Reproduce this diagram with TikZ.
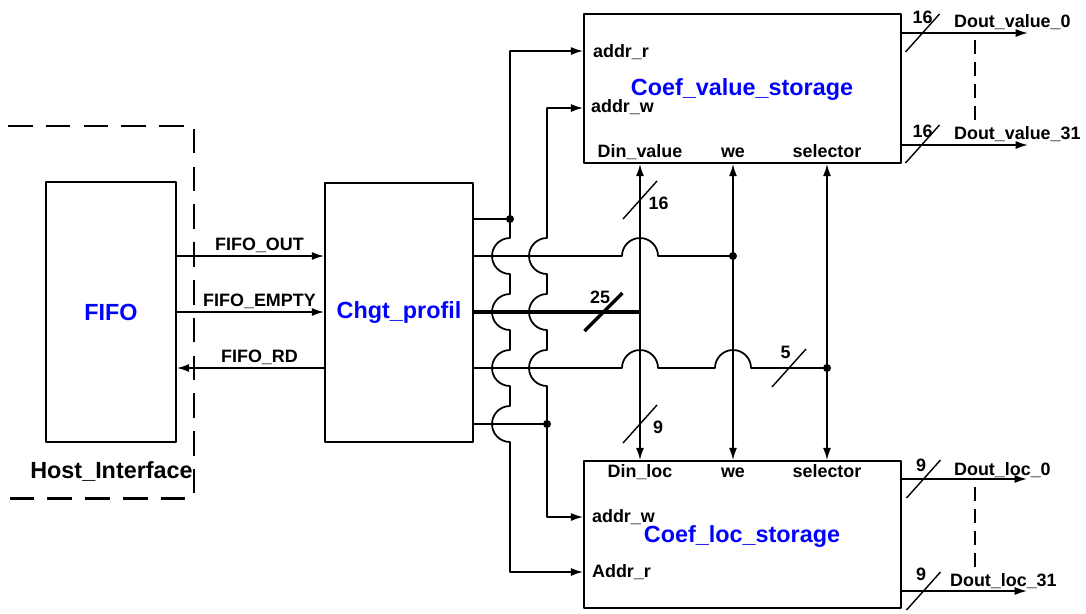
\documentclass[tikz,border=0pt]{standalone}
\usepackage{fontspec}
\setmainfont{Liberation Sans}
\usetikzlibrary{arrows.meta}

\begin{document}
\begin{tikzpicture}[x=0.02cm,y=-0.02cm,line join=round,>={Latex[length=7pt,width=4.6pt]},
  every node/.style={inner sep=1pt},
  block/.style={draw,line width=1pt,inner sep=0pt,text=blue,font=\fontsize{13.3}{15}\selectfont\bfseries},
  blocktxt/.style={text=blue,font=\fontsize{13.3}{15}\selectfont\bfseries},
  port/.style={font=\fontsize{10.2}{12}\selectfont\bfseries},
  wire/.style={line width=1pt},
  bus/.style={line width=2pt},
  busmark/.style={line width=0.8pt},
  hostbox/.style={line width=1.7pt,dash pattern=on 14pt off 7.5pt}]
  \useasboundingbox (0,0) rectangle (1086,613);

  % blocks
  \node[block,minimum width=2.6cm,minimum height=5.2cm] (fifo) at (111,312) {FIFO};
  \node[block,minimum width=2.96cm,minimum height=5.18cm] (chg) at (399,312.5) {Chgt\_profil};
  \node[block,minimum width=6.34cm,minimum height=2.98cm] (cvs) at (742.5,88.5) {};
  \node[block,minimum width=6.34cm,minimum height=2.94cm] (cls) at (742.5,534.5) {};
  \node[blocktxt,anchor=base] (cvst) at (742,95) {Coef\_value\_storage};
  \node[blocktxt,anchor=base] (clst) at (742,542) {Coef\_loc\_storage};

  % host interface
  \draw[hostbox] (8,126) -| (194,498) -- (8,498);
  \node[blocktxt,text=black,anchor=base] (host) at (111.5,478) {Host\_Interface};

  % fifo <-> chgt_profil
  \draw[wire,->] (fifo.east |- 0,256) -- (chg.west |- 0,256);
  \draw[wire,->] (fifo.east |- 0,312) -- (chg.west |- 0,312);
  \draw[wire,<-] (fifo.east |- 0,368) -- (chg.west |- 0,368);
  \node[port,anchor=base] (fout) at (259.5,250) {FIFO\_OUT};
  \node[port,anchor=base] (fempty) at (259.5,306) {FIFO\_EMPTY};
  \node[port,anchor=base] (frd) at (259.5,362) {FIFO\_RD};

  % ports
  \node[port,anchor=base west] (cvar) at (591,57) {addr\_r};
  \node[port,anchor=base west] (cvaw) at (589,112) {addr\_w};
  \node[port,anchor=base] (cvdin) at (640,157) {Din\_value};
  \node[port,anchor=base] (cvwe) at (733,157) {we};
  \node[port,anchor=base] (cvsel) at (827,157) {selector};
  \node[port,anchor=base] (cldin) at (640,477) {Din\_loc};
  \node[port,anchor=base] (clwe) at (733,477) {we};
  \node[port,anchor=base] (clsel) at (827,477) {selector};
  \node[port,anchor=base west] (claw) at (590,522) {addr\_w};
  \node[port,anchor=base west] (clar) at (590,577) {Addr\_r};

  \coordinate (ja) at (510,219);
  \coordinate (jb) at (547,424);
  \coordinate (jc) at (733,256);
  \coordinate (jd) at (827,368);

  % shared buses between the storages
  \draw[wire,<->] (cvs.south -| cvdin) -- (cls.north -| cldin);
  \draw[wire,<->] (cvs.south -| cvwe) -- (cls.north -| clwe);
  \draw[wire,<->] (cvs.south -| cvsel) -- (cls.north -| clsel);

  % addresses
  \draw[wire,<->] (cvs.west |- 0,51) -| (ja)
    foreach \yy in {256,312,368,424}{ -- (510,\yy-18) arc[start angle=270,end angle=90,radius=18] }
    |- (cls.west |- 0,572);
  \draw[wire,<->] (cvs.west |- 0,108) -| (547,200)
    foreach \yy in {256,312,368}{ -- (547,\yy-18) arc[start angle=270,end angle=90,radius=18] }
    |- (cls.west |- 0,517);
  \draw[wire] (chg.east |- ja) -- (ja);
  \draw[wire] (chg.east |- jb) -- (jb);

  % we, data, selector
  \draw[wire] (chg.east |- jc)
    foreach \xx in {640}{ -- (\xx-18,256) arc[start angle=180,end angle=360,radius=18] } -- (jc);
  \draw[bus] (chg.east |- 0,312) -- (cvdin |- 0,312);
  \draw[wire] (chg.east |- jd)
    foreach \xx in {640,733}{ -- (\xx-18,368) arc[start angle=180,end angle=360,radius=18] } -- (jd);
  \foreach \j in {ja,jb,jc,jd} \fill (\j) circle[radius=4];

  % outputs
  \draw[wire,->] (cvs.east |- 0,33) -- (1028,33);
  \draw[wire,->] (cvs.east |- 0,145) -- (1028,145);
  \draw[wire,->] (cls.east |- 0,479) -- (1027,479);
  \draw[wire,->] (cls.east |- 0,591) -- (1027,591);
  \draw[line width=0.8pt,dash pattern=on 8pt off 4.5pt] (975,40) -- (975,120);
  \draw[line width=0.8pt,dash pattern=on 8pt off 4.5pt] (975,487) -- (975,567);
  \node[port,anchor=base west] (dv0) at (952,27) {Dout\_value\_0};
  \node[port,anchor=base west] (dv31) at (952,139) {Dout\_value\_31};
  \node[port,anchor=base west] (dl0) at (952,475) {Dout\_loc\_0};
  \node[port,anchor=base west] (dl31) at (948,586) {Dout\_loc\_31};

  % bus widths
  \node[port,anchor=base] (w16a) at (922.5,23) {16};
  \node[port,anchor=base] (w16b) at (922.5,137) {16};
  \node[port,anchor=base] (w9a) at (921,471) {9};
  \node[port,anchor=base] (w9b) at (921,580) {9};
  \node[port,anchor=base] (w16) at (658.5,209) {16};
  \node[port,anchor=base] (w9) at (658,433) {9};
  \node[port,anchor=base] (w25) at (600,303) {25};
  \node[port,anchor=base] (w5) at (785.5,358) {5};
  \foreach \p in {(922.5,33),(922.5,144),(923.5,479),(923.5,591),(640,200),(640,424),(789,368)}
    \draw[busmark] \p ++(-17,19) -- ++(34,-38);
  \draw[bus] (603.5,312) ++(-19,19) -- ++(38,-38);
\end{tikzpicture}
\end{document}
